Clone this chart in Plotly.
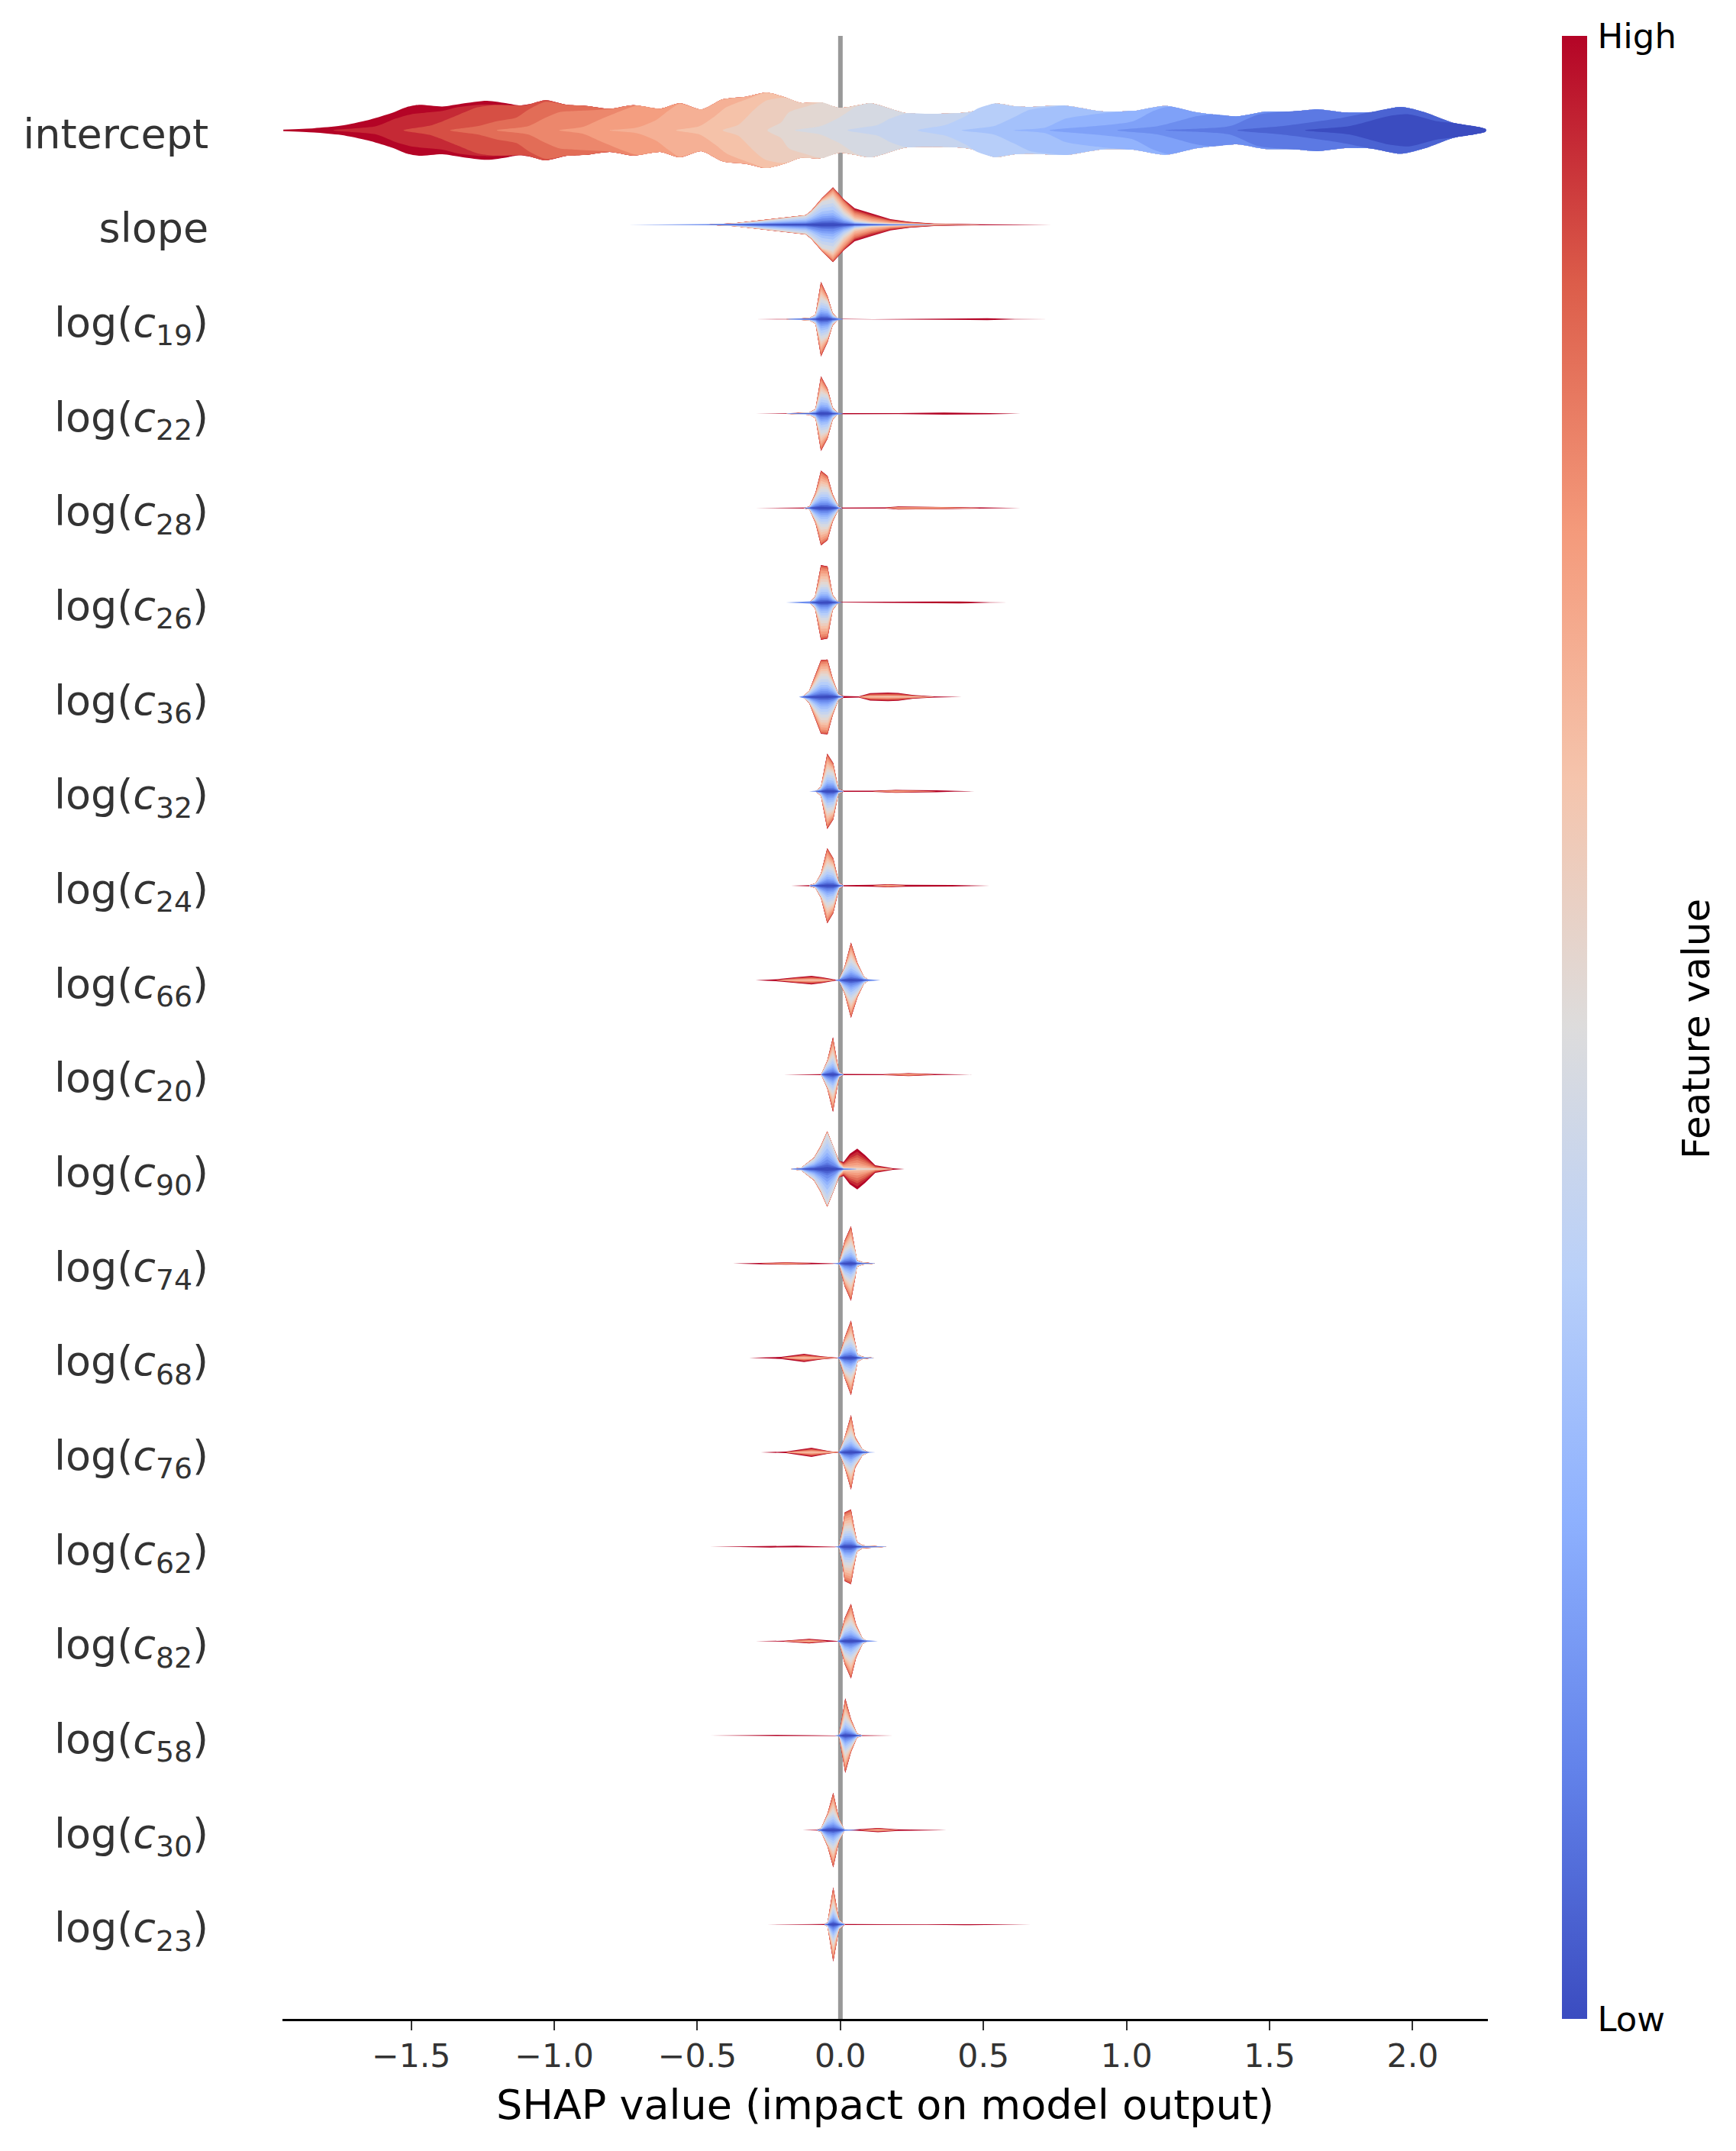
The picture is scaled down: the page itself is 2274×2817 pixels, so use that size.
import plotly.graph_objects as go

feature_labels = ["intercept", "slope",
                  "log(<i>c</i><sub>19</sub>)", "log(<i>c</i><sub>22</sub>)", "log(<i>c</i><sub>28</sub>)",
                  "log(<i>c</i><sub>26</sub>)", "log(<i>c</i><sub>36</sub>)", "log(<i>c</i><sub>32</sub>)",
                  "log(<i>c</i><sub>24</sub>)", "log(<i>c</i><sub>66</sub>)", "log(<i>c</i><sub>20</sub>)",
                  "log(<i>c</i><sub>90</sub>)", "log(<i>c</i><sub>74</sub>)", "log(<i>c</i><sub>68</sub>)",
                  "log(<i>c</i><sub>76</sub>)", "log(<i>c</i><sub>62</sub>)", "log(<i>c</i><sub>82</sub>)",
                  "log(<i>c</i><sub>58</sub>)", "log(<i>c</i><sub>30</sub>)", "log(<i>c</i><sub>23</sub>)"]

x_ticks = [-1.5, -1.0, -0.5, 0.0, 0.5, 1.0, 1.5, 2.0]
x_tick_labels = ["−1.5", "−1.0", "−0.5", "0.0", "0.5", "1.0", "1.5", "2.0"]

coolwarm = ["#3b4cc0", "#6282ea", "#8db0fe", "#b9d0f9", "#dddcdc", "#f5c4ac", "#f49a7b", "#dc5d4a", "#b40426"]

# intercept: outer envelope, then one boundary per layer (18 = just inside the darkest red)
intercept_x = [-1.947, -1.840, -1.745, -1.650, -1.568, -1.514, -1.473, -1.391, -1.323, -1.235, -1.160, -1.119,
               -1.078, -1.030, -0.956, -0.888, -0.806, -0.724, -0.629, -0.561, -0.486, -0.411, -0.329, -0.259,
               -0.193, -0.139, -0.071, -0.003, 0.106, 0.131, 0.228, 0.298, 0.452, 0.542, 0.605, 0.661, 0.787,
               0.912, 1.024, 1.136, 1.247, 1.387, 1.484, 1.582, 1.666, 1.763, 1.861, 1.959, 2.043, 2.140, 2.255]
intercept_h = [0.008, 0.022, 0.049, 0.108, 0.183, 0.248, 0.270, 0.253, 0.283, 0.313, 0.283, 0.264,
               0.283, 0.318, 0.270, 0.259, 0.229, 0.267, 0.229, 0.286, 0.221, 0.329, 0.356, 0.399,
               0.350, 0.291, 0.296, 0.237, 0.286, 0.270, 0.183, 0.175, 0.194, 0.283, 0.256, 0.248, 0.261,
               0.202, 0.205, 0.259, 0.189, 0.148, 0.197, 0.199, 0.221, 0.189, 0.194, 0.248, 0.189, 0.081, 0.013]

layer18_x = [-1.772, -1.623, -1.555, -1.500, -1.391, -1.337, -1.255, -1.146]
layer18_h = [0, 0.043, 0.124, 0.170, 0.205, 0.245, 0.272, 0.267]
layer17_x = [-1.527, -1.432, -1.337, -1.269, -1.214, -1.105]
layer17_h = [0, 0.051, 0.162, 0.243, 0.267, 0.264]
layer16_x = [-1.364, -1.269, -1.201, -1.133, -1.092, -1.030]
layer16_h = [0, 0.043, 0.097, 0.135, 0.216, 0.302]
layer15_x = [-1.201, -1.092, -1.037, -0.983, -0.928, -0.806]
layer15_h = [0, 0.043, 0.124, 0.191, 0.205, 0.226]
layer14_x = [-0.983, -0.901, -0.833, -0.751, -0.711]
layer14_h = [0, 0.035, 0.124, 0.224, 0.261]
layer13_x = [-0.806, -0.711, -0.643, -0.602, -0.561]
layer13_h = [0, 0.030, 0.111, 0.205, 0.280]
layer12_x = [-0.574, -0.493, -0.438, -0.398, -0.309]
layer12_h = [0, 0.043, 0.151, 0.245, 0.350]
layer11_x = [-0.411, -0.357, -0.302, -0.261, -0.193]
layer11_h = [0, 0.057, 0.218, 0.313, 0.345]
layer10_x = [-0.255, -0.207, -0.180, -0.112, -0.064]
layer10_h = [0, 0.084, 0.191, 0.259, 0.294]
layer9_x = [-0.159, -0.071, -0.003, 0.052, 0.086]
layer9_h = [0, 0.043, 0.137, 0.245, 0.280]
layer8_x = [0.025, 0.131, 0.173, 0.228]
layer8_h = [0, 0.057, 0.124, 0.178]
layer7_x = [0.270, 0.368, 0.438, 0.480, 0.535]
layer7_h = [0, 0.057, 0.151, 0.232, 0.283]
layer6_x = [0.424, 0.535, 0.605, 0.661, 0.745]
layer6_h = [0, 0.043, 0.137, 0.218, 0.251]
layer5_x = [0.605, 0.717, 0.787, 0.870, 1.010]
layer5_h = [0, 0.030, 0.124, 0.164, 0.205]
layer4_x = [0.731, 0.884, 1.024, 1.094, 1.149]
layer4_h = [0, 0.043, 0.097, 0.205, 0.251]
layer3_x = [0.968, 1.108, 1.247, 1.303, 1.387]
layer3_h = [0, 0.043, 0.151, 0.170, 0.148]
layer2_x = [1.136, 1.359, 1.456, 1.526, 1.638]
layer2_h = [0, 0.043, 0.164, 0.191, 0.213]
layer1_x = [1.387, 1.540, 1.736, 1.875, 1.959]
layer1_h = [0, 0.043, 0.124, 0.205, 0.245]
layer0_x = [1.624, 1.777, 1.917, 1.987, 2.085, 2.140]
layer0_h = [0, 0.043, 0.151, 0.170, 0.097, 0.078]

intercept_layers = [(layer18_x, layer18_h), (layer17_x, layer17_h), (layer16_x, layer16_h), (layer15_x, layer15_h),
                    (layer14_x, layer14_h), (layer13_x, layer13_h), (layer12_x, layer12_h), (layer11_x, layer11_h),
                    (layer10_x, layer10_h), (layer9_x, layer9_h), (layer8_x, layer8_h), (layer7_x, layer7_h),
                    (layer6_x, layer6_h), (layer5_x, layer5_h), (layer4_x, layer4_h), (layer3_x, layer3_h),
                    (layer2_x, layer2_h), (layer1_x, layer1_h), (layer0_x, layer0_h)]

# other features: shap value, outer half width, half width of the blue part
slope_x = [-0.74, -0.607, -0.473, -0.369, -0.274, -0.178, -0.121, -0.102, -0.064, -0.026, 0.012, 0.05, 0.108, 0.175, 0.241, 0.327, 0.489, 0.603, 0.737]
slope_outer = [0, 0.003, 0.005, 0.016, 0.049, 0.081, 0.102, 0.148, 0.283, 0.396, 0.27, 0.175, 0.121, 0.059, 0.032, 0.013, 0.005, 0.003, 0]
slope_blue = [0, 0.003, 0.005, 0.013, 0.04, 0.075, 0.094, 0.135, 0.243, 0.27, 0.121, 0.04, 0.016, 0.008, 0.004, 0, 0, 0, 0]

c19_x = [-0.296, -0.19, -0.108, -0.087, -0.068, -0.045, -0.027, -0.007, 0.011, 0.113, 0.255, 0.513, 0.611, 0.727]
c19_outer = [0, 0.003, 0.013, 0.049, 0.396, 0.244, 0.065, 0.01, 0.005, 0.001, 0.006, 0.01, 0.003, 0]
c19_blue = [0, 0, 0.01, 0.042, 0.21, 0.18, 0.05, 0.006, 0, 0, 0, 0, 0, 0]

c22_x = [-0.296, -0.19, -0.108, -0.087, -0.068, -0.045, -0.027, -0.007, 0.011, 0.202, 0.362, 0.522, 0.629]
c22_outer = [0, 0.003, 0.013, 0.049, 0.396, 0.266, 0.065, 0.01, 0.006, 0.005, 0.011, 0.006, 0]
c22_blue = [0, 0, 0.01, 0.042, 0.21, 0.19, 0.05, 0.006, 0, 0, 0, 0, 0]

c28_x = [-0.296, -0.127, -0.108, -0.087, -0.068, -0.045, -0.027, -0.007, 0.006, 0.157, 0.202, 0.344, 0.488, 0.629]
c28_outer = [0, 0.005, 0.016, 0.162, 0.396, 0.341, 0.146, 0.016, 0.005, 0.006, 0.016, 0.013, 0.006, 0]
c28_blue = [0, 0, 0.012, 0.12, 0.2, 0.2, 0.11, 0.012, 0, 0, 0, 0, 0, 0]

c26_x = [-0.278, -0.19, -0.108, -0.089, -0.068, -0.045, -0.027, -0.007, 0.006, 0.344, 0.415, 0.522, 0.584]
c26_outer = [0, 0.003, 0.01, 0.058, 0.396, 0.383, 0.081, 0.01, 0.006, 0.01, 0.011, 0.003, 0]
c26_blue = [0, 0, 0.008, 0.05, 0.19, 0.19, 0.065, 0.006, 0, 0, 0, 0, 0]

c36_x = [-0.216, -0.145, -0.132, -0.109, -0.068, -0.045, -0.027, -0.007, 0.011, 0.064, 0.104, 0.166, 0.202, 0.255, 0.327, 0.424]
c36_outer = [0, 0.003, 0.01, 0.065, 0.39, 0.396, 0.195, 0.032, 0.01, 0.006, 0.039, 0.045, 0.042, 0.019, 0.006, 0]
c36_blue = [0, 0, 0.006, 0.055, 0.22, 0.22, 0.15, 0.026, 0.003, 0, 0, 0, 0, 0, 0, 0]

c32_x = [-0.216, -0.109, -0.087, -0.068, -0.046, -0.025, -0.007, 0.011, 0.113, 0.193, 0.335, 0.398, 0.469]
c32_outer = [0, 0.003, 0.006, 0.049, 0.399, 0.299, 0.026, 0.006, 0.006, 0.015, 0.01, 0.003, 0]
c32_blue = [0, 0, 0.004, 0.04, 0.21, 0.19, 0.02, 0, 0, 0, 0, 0, 0]

c24_x = [-0.172, -0.109, -0.087, -0.068, -0.046, -0.025, -0.005, 0.011, 0.113, 0.166, 0.229, 0.389, 0.522]
c24_outer = [0, 0.006, 0.026, 0.13, 0.399, 0.292, 0.032, 0.006, 0.01, 0.016, 0.01, 0.008, 0]
c24_blue = [0, 0, 0.02, 0.11, 0.21, 0.18, 0.025, 0, 0, 0, 0, 0, 0]

c66_x = [-0.296, -0.225, -0.154, -0.101, -0.065, -0.02, -0.005, 0.015, 0.037, 0.06, 0.082, 0.1, 0.14]
c66_outer = [0, 0.01, 0.032, 0.045, 0.032, 0.006, 0.01, 0.146, 0.399, 0.179, 0.039, 0.01, 0]
c66_blue = [0, 0, 0, 0, 0, 0, 0.008, 0.12, 0.22, 0.14, 0.033, 0.006, 0]

c20_x = [-0.198, -0.067, -0.046, -0.026, -0.005, 0.011, 0.149, 0.238, 0.327, 0.46]
c20_outer = [0, 0.005, 0.146, 0.396, 0.032, 0.006, 0.005, 0.015, 0.006, 0]
c20_blue = [0, 0, 0.12, 0.2, 0.025, 0, 0, 0, 0, 0]

c90_x = [-0.173, -0.136, -0.092, -0.069, -0.046, -0.025, -0.005, 0.011, 0.033, 0.059, 0.086, 0.122, 0.184, 0.224]
c90_outer = [0, 0.016, 0.121, 0.243, 0.4, 0.243, 0.086, 0.075, 0.162, 0.216, 0.148, 0.04, 0.008, 0]
c90_blue = [0, 0.014, 0.11, 0.22, 0.38, 0.23, 0.06, 0.008, 0.003, 0, 0, 0, 0, 0]

c74_x = [-0.376, -0.278, -0.19, -0.101, -0.029, -0.005, 0.015, 0.037, 0.051, 0.058, 0.077, 0.122]
c74_outer = [0, 0.008, 0.012, 0.008, 0.004, 0.008, 0.243, 0.396, 0.17, 0.035, 0.013, 0]
c74_blue = [0, 0, 0, 0, 0, 0.006, 0.14, 0.2, 0.12, 0.03, 0.008, 0]

c68_x = [-0.319, -0.207, -0.127, -0.065, -0.012, -0.005, 0.015, 0.037, 0.051, 0.06, 0.077, 0.117]
c68_outer = [0, 0.011, 0.043, 0.016, 0.003, 0.008, 0.216, 0.396, 0.189, 0.04, 0.013, 0]
c68_blue = [0, 0, 0, 0, 0, 0.006, 0.15, 0.2, 0.13, 0.035, 0.008, 0]

c76_x = [-0.278, -0.19, -0.101, -0.038, -0.007, -0.004, 0.015, 0.037, 0.052, 0.077, 0.1, 0.122]
c76_outer = [0, 0.008, 0.049, 0.013, 0.003, 0.008, 0.162, 0.396, 0.162, 0.032, 0.005, 0]
c76_blue = [0, 0, 0, 0, 0, 0.006, 0.13, 0.2, 0.125, 0.028, 0.003, 0]

c62_x = [-0.456, -0.35, -0.243, -0.154, -0.083, -0.02, -0.005, 0.006, 0.015, 0.037, 0.046, 0.058, 0.077, 0.162]
c62_outer = [0, 0.003, 0.008, 0.011, 0.005, 0.004, 0.008, 0.162, 0.364, 0.396, 0.243, 0.054, 0.016, 0]
c62_blue = [0, 0, 0, 0, 0, 0, 0.006, 0.11, 0.19, 0.2, 0.15, 0.045, 0.01, 0]

c82_x = [-0.296, -0.198, -0.109, -0.047, -0.012, -0.005, 0.015, 0.037, 0.055, 0.077, 0.095, 0.131]
c82_outer = [0, 0.005, 0.024, 0.008, 0.004, 0.008, 0.243, 0.396, 0.175, 0.032, 0.008, 0]
c82_blue = [0, 0, 0, 0, 0, 0.006, 0.15, 0.2, 0.13, 0.028, 0.005, 0]

c58_x = [-0.456, -0.323, -0.225, -0.101, -0.02, -0.005, 0.017, 0.037, 0.058, 0.077, 0.184]
c58_outer = [0, 0.003, 0.008, 0.004, 0.004, 0.008, 0.396, 0.175, 0.022, 0.005, 0]
c58_blue = [0, 0, 0, 0, 0, 0.006, 0.19, 0.12, 0.018, 0.002, 0]

c30_x = [-0.132, -0.083, -0.067, -0.045, -0.025, -0.005, 0.015, 0.069, 0.131, 0.202, 0.344, 0.371]
c30_outer = [0, 0.004, 0.022, 0.175, 0.396, 0.121, 0.008, 0.008, 0.022, 0.008, 0.003, 0]
c30_blue = [0, 0, 0.018, 0.14, 0.2, 0.1, 0.005, 0, 0, 0, 0, 0]

c23_x = [-0.256, -0.101, -0.056, -0.045, -0.025, -0.005, 0.015, 0.166, 0.3, 0.433, 0.522, 0.665]
c23_outer = [0, 0.003, 0.005, 0.022, 0.394, 0.054, 0.005, 0.003, 0.004, 0.008, 0.003, 0]
c23_blue = [0, 0, 0, 0.018, 0.2, 0.045, 0, 0, 0, 0, 0, 0]

small_rows = [(slope_x, slope_outer, slope_blue), (c19_x, c19_outer, c19_blue), (c22_x, c22_outer, c22_blue),
              (c28_x, c28_outer, c28_blue), (c26_x, c26_outer, c26_blue), (c36_x, c36_outer, c36_blue),
              (c32_x, c32_outer, c32_blue), (c24_x, c24_outer, c24_blue), (c66_x, c66_outer, c66_blue),
              (c20_x, c20_outer, c20_blue), (c90_x, c90_outer, c90_blue), (c74_x, c74_outer, c74_blue),
              (c68_x, c68_outer, c68_blue), (c76_x, c76_outer, c76_blue), (c62_x, c62_outer, c62_blue),
              (c82_x, c82_outer, c82_blue), (c58_x, c58_outer, c58_blue), (c30_x, c30_outer, c30_blue),
              (c23_x, c23_outer, c23_blue)]

# how far up each band a layer reaches: blue layers 0..9, warm layers 10..19 in the lobe and in the tails
blue_share = [0.06, 0.12, 0.18, 0.27, 0.36, 0.46, 0.58, 0.72, 0.85, 1]
lobe_warm = [0.15, 0.3, 0.45, 0.6, 0.74, 0.86, 0.94, 0.98, 0.995, 1]
tail_warm = [0.03, 0.06, 0.1, 0.2, 0.32, 0.45, 0.58, 0.7, 0.85, 1]

# below this half width only one layer is drawn, stacked antialiased slivers would add up to a solid line
thin = 0.012


def layer_color(k):
    pos = k / 19 * (len(coolwarm) - 1)
    i = min(int(pos), len(coolwarm) - 2)
    t = pos - i
    a = coolwarm[i]
    b = coolwarm[i + 1]
    rgb = []
    for j in (1, 3, 5):
        rgb.append(round(int(a[j:j + 2], 16) * (1 - t) + int(b[j:j + 2], 16) * t))
    return "rgb(%d,%d,%d)" % tuple(rgb)


def add_layer(fig, x, h, row, k, spline=False):
    xs = list(x) + list(x)[::-1]
    ys = [row - v for v in h] + [row + v for v in h][::-1]
    line = dict(width=0, shape="spline", smoothing=0.7) if spline else dict(width=0)
    fig.add_trace(go.Scatter(x=xs, y=ys, mode="lines", line=line, fill="toself", fillcolor=layer_color(k),
                             hoverinfo="skip", showlegend=False))


def add_segments(fig, x, h, row, k):
    # one polygon per stretch where the layer has width, empty stretches would draw hairlines
    start = None
    for i in range(len(h)):
        if h[i] > 0 and start is None:
            start = max(i - 1, 0)
        if start is not None and (h[i] == 0 or i == len(h) - 1):
            add_layer(fig, x[start:i + 1], h[start:i + 1], row, k)
            start = None


fig = go.Figure()

# zero line under everything
fig.add_trace(go.Scatter(x=[0, 0], y=[-1, 20], mode="lines", line=dict(color="#999999", width=6),
                         hoverinfo="skip", showlegend=False))

add_layer(fig, intercept_x, intercept_h, 0, 19, spline=True)
for n, (bx, bh) in enumerate(intercept_layers):
    # past its last point a layer boundary runs along the outer envelope
    rest = [i for i in range(len(intercept_x)) if intercept_x[i] > bx[-1]]
    lx = bx + [intercept_x[i] for i in rest]
    lh = bh + [intercept_h[i] for i in rest]
    add_layer(fig, lx, lh, 0, 18 - n, spline=True)

for row, (x, outer, blue) in enumerate(small_rows, start=1):
    for k in range(19, -1, -1):
        h = []
        for o, b in zip(outer, blue):
            if o < thin:
                keep = 3 if b > 0.5 * o else 19
                h.append(o if k == keep else 0)
            elif k < 10:
                h.append(b * blue_share[k])
            else:
                w = min(1, 2 * b / o)
                share = w * lobe_warm[k - 10] + (1 - w) * tail_warm[k - 10]
                h.append(b + (o - b) * share)
        add_segments(fig, x, h, row, k)

# dummy trace, only for the colorbar
fig.add_trace(go.Scatter(x=[None], y=[None], mode="markers", hoverinfo="skip", showlegend=False,
                         marker=dict(color=[0, 1], cmin=0, cmax=1, showscale=True,
                                     colorscale=[[i / 8, c] for i, c in enumerate(coolwarm)],
                                     colorbar=dict(x=1.0614, xanchor="left", xpad=0, y=0, yanchor="bottom", ypad=0,
                                                   len=1, thickness=33, outlinewidth=0,
                                                   tickmode="array", tickvals=[0, 1], ticktext=["Low", "High"],
                                                   ticks="outside", ticklen=5, tickcolor="rgba(0,0,0,0)",
                                                   tickfont=dict(family="DejaVu Sans", size=45, color="black")))))

fig.add_annotation(text="Feature value", xref="paper", yref="paper", x=1.1729, y=0.499, showarrow=False,
                   textangle=-90, xanchor="center", yanchor="middle",
                   font=dict(family="DejaVu Sans", size=50, color="black"))

fig.update_layout(width=2274, height=2817, margin=dict(l=370, r=325, t=47, b=173, autoexpand=False),
                  paper_bgcolor="white", plot_bgcolor="white", showlegend=False,
                  font=dict(family="DejaVu Sans"))
fig.update_xaxes(range=[-1.950, 2.263], tickmode="array", tickvals=x_ticks, ticktext=x_tick_labels,
                 ticks="outside", ticklen=12, tickwidth=2, tickcolor="#333333", ticklabelstandoff=-3,
                 tickfont=dict(size=42.6, color="#333333"), showgrid=False, zeroline=False,
                 showline=True, linecolor="black", linewidth=3,
                 title=dict(text="SHAP value (impact on model output)", standoff=22,
                            font=dict(size=54, color="black")))
fig.update_yaxes(range=[20, -1], tickmode="array", tickvals=list(range(20)), ticktext=feature_labels,
                 ticks="outside", ticklen=85, tickcolor="rgba(0,0,0,0)", ticklabelshift=-4,
                 tickfont=dict(size=54, color="#333333"), showgrid=False, zeroline=False, showline=False)

fig.write_html("out.html", post_script="document.body.style.margin='0';", config=dict(displayModeBar=False))
